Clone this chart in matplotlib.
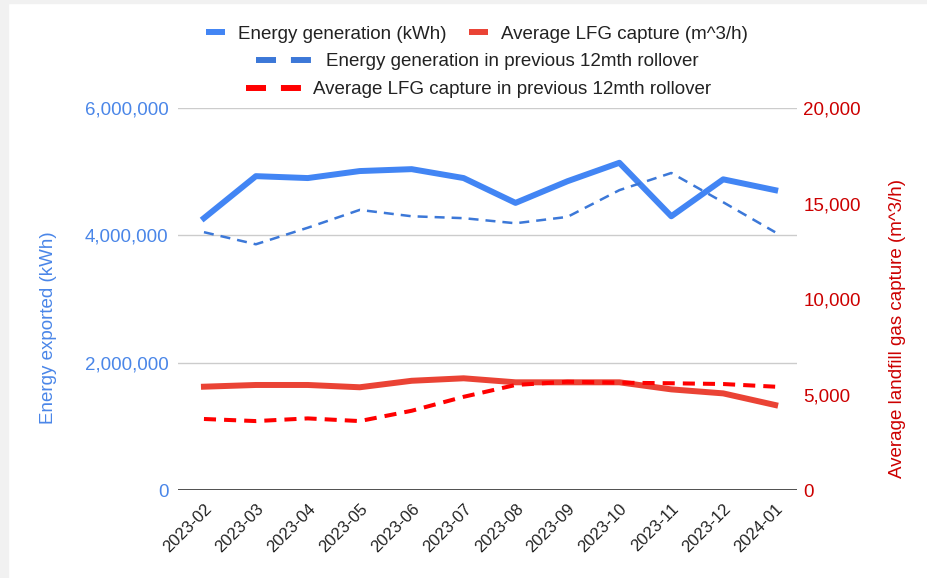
import numpy as np
import matplotlib.pyplot as plt
from matplotlib.lines import Line2D
from matplotlib.patches import Rectangle
from matplotlib.ticker import FuncFormatter

plt.rcParams["font.family"] = ["Liberation Sans", "DejaVu Sans"]

months = ["2023-02", "2023-03", "2023-04", "2023-05", "2023-06", "2023-07",
          "2023-08", "2023-09", "2023-10", "2023-11", "2023-12", "2024-01"]
energy = [4270000, 4930000, 4900000, 5010000, 5040000, 4900000,
          4510000, 4850000, 5140000, 4300000, 4880000, 4710000]
energy_roll = [4050000, 3860000, 4120000, 4400000, 4300000, 4270000,
               4190000, 4290000, 4710000, 4980000, 4520000, 4050000]
lfg = [5410, 5500, 5500, 5380, 5720, 5850, 5640, 5640, 5640, 5270, 5060, 4450]
lfg_roll = [3720, 3610, 3750, 3610, 4150, 4880, 5500, 5670, 5620, 5590, 5550, 5410]

BLUE = "#4285f4"
BLUE_D = "#3c78d8"
RED = "#ea4335"
RED_D = "#ff0000"
LBLUE = "#4a86e8"
DRED = "#cc0000"

fig = plt.figure(figsize=(9.28, 5.78), dpi=100)
# light grey frame strips of the screenshot
fig.patches.append(Rectangle((0, 0), 8 / 928, 1, transform=fig.transFigure,
                             color="#f1f1f1", zorder=0))
fig.patches.append(Rectangle((0, 1 - 3 / 578), 1, 3 / 578, transform=fig.transFigure,
                             color="#f1f1f1", zorder=0))

ax = fig.add_axes([0.1918, 0.1522, 0.667, 0.6609])
ax2 = ax.twinx()
x = np.arange(len(months))

l1, = ax.plot(x, energy, color=BLUE, lw=4.3, solid_joinstyle="round")
ax.plot(x, energy_roll, color=BLUE_D, lw=1.8, linestyle=(0, (4, 2.8)))
ax2.plot(x, lfg, color=RED, lw=4.3, solid_joinstyle="round")
ax2.plot(x, lfg_roll, color=RED_D, lw=2.9, linestyle=(0, (3, 2)))

ax.set_xlim(-0.5, 11.42)
ax.set_ylim(0, 6000000)
ax.set_yticks([0, 2000000, 4000000, 6000000])
ax.yaxis.set_major_formatter(FuncFormatter(lambda v, p: f"{int(v):,}"))
ax2.set_ylim(0, 20000)
ax2.set_yticks([0, 5000, 10000, 15000, 20000])
ax2.yaxis.set_major_formatter(FuncFormatter(lambda v, p: f"{int(v):,}"))

ax.grid(axis="y", color="#cccccc", lw=1)
ax.set_axisbelow(True)
for a in (ax, ax2):
    for s in a.spines.values():
        s.set_visible(False)
ax.axhline(0, color="#333333", lw=1.2, zorder=1)

ax.set_xticks(x)
ax.set_xticklabels(months, rotation=45, ha="right", rotation_mode="anchor",
                   fontsize=12, color="#222222")
ax.tick_params(axis="x", length=0, pad=8)
ax.tick_params(axis="y", length=0, labelsize=13.5, labelcolor=LBLUE, pad=7)
ax2.tick_params(axis="y", length=0, labelsize=13.5, labelcolor=DRED, pad=4.5)

ax.set_ylabel("Energy exported (kWh)", color=LBLUE, fontsize=13.5)
ax2.set_ylabel("Average landfill gas capture (m^3/h)", color=DRED, fontsize=13.5)
ax.yaxis.set_label_coords(-0.21, 0.426)
ax2.yaxis.set_label_coords(1.163, 0.424)
ax.yaxis.label.set_va("center")
ax2.yaxis.label.set_va("center")

h1 = Line2D([], [], color=BLUE, lw=4.3, solid_capstyle="butt")
h2 = Line2D([], [], color=RED, lw=4.3, solid_capstyle="butt")
h3 = Line2D([], [], color=BLUE_D, lw=4.3, dashes=(3.35, 2.5), dash_capstyle="butt")
h4 = Line2D([], [], color=RED_D, lw=4.3, dashes=(3.35, 2.5), dash_capstyle="butt")

leg_kw = dict(frameon=False, fontsize=13.5, labelcolor="#222222", loc="center",
              borderpad=0, borderaxespad=0)
fig.legend([h1, h2], ["Energy generation (kWh)", "Average LFG capture (m^3/h)"],
           ncol=2, bbox_to_anchor=(477 / 928, 0.941), handlelength=1.0,
           handletextpad=0.7, columnspacing=1.17, **leg_kw)
fig.legend([h3], ["Energy generation in previous 12mth rollover"],
           bbox_to_anchor=(477.5 / 928, 0.893), handlelength=2.95,
           handletextpad=0.8, **leg_kw)
fig.legend([h4], ["Average LFG capture in previous 12mth rollover"],
           bbox_to_anchor=(478.5 / 928, 0.845), handlelength=2.95,
           handletextpad=0.6, **leg_kw)

fig.savefig("out.png", dpi=100)
